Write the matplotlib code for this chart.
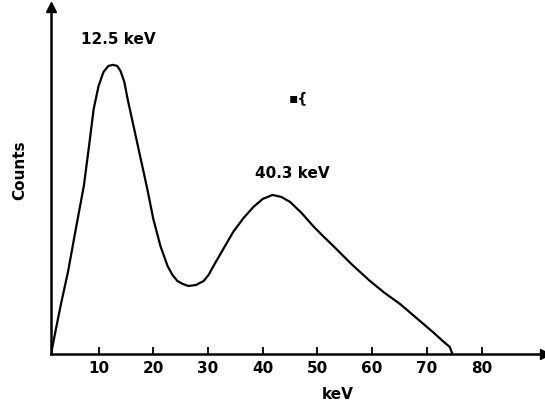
import matplotlib.pyplot as plt

# energy spectrum (keV, arbitrary counts)
energy = [1.3, 2.2, 3.2, 4.4, 5.8, 7.3, 8.3, 9.1, 10.0, 10.9, 11.8, 12.6, 13.4, 14.0,
          14.7, 15.3, 16.5, 17.7, 18.9, 20.0, 21.3, 22.6, 23.5, 24.4, 25.4, 26.4,
          27.8, 29.2, 30.1, 31.0, 32.8, 34.6, 36.5, 38.3, 40.0, 41.8, 43.4, 45.0,
          47.1, 49.2, 51.0, 52.9, 56.2, 59.6, 62.3, 65.1, 68.1, 71.1, 72.7, 74.2, 74.6]
counts = [0, 25, 52, 82, 124, 168, 210, 245, 268, 282, 288, 289, 288, 283,
          272, 255, 225, 195, 165, 135, 108, 88, 79, 73, 70, 68,
          69, 73, 79, 88, 105, 122, 136, 147, 155, 159, 157, 152,
          141, 128, 118, 108, 90, 73, 61, 50, 36, 22, 14, 7, 1]

xticks = [10, 20, 30, 40, 50, 60, 70, 80]
peak_labels = ["12.5 keV", "40.3 keV"]

fig = plt.figure(figsize=(5.45, 4.06), dpi=100)
ax = fig.add_axes([0.0936, 0.1256, 0.9064, 0.855])

ax.plot(energy, counts, color='black', lw=1.6, solid_joinstyle='round')

ax.set_xlim(1.3, 91.6)
ax.set_ylim(0, 347)

for side in ['top', 'right']:
    ax.spines[side].set_visible(False)
for side in ['left', 'bottom']:
    ax.spines[side].set_linewidth(1.8)

# arrow heads on the axes
ax.plot(1, 0, '>k', ms=7, transform=ax.transAxes, clip_on=False)
ax.plot(0, 1, '^k', ms=7, transform=ax.transAxes, clip_on=False)

ax.set_xticks(xticks)
ax.set_xticklabels([str(t) for t in xticks], fontsize=11, fontweight='bold')
ax.tick_params(axis='x', direction='in', length=5, width=1.3, pad=4)
ax.set_yticks([])

fig.text(338 / 545, 1 - 395 / 406, 'keV', ha='center', va='center',
         fontsize=11, fontweight='bold')
fig.text(20 / 545, 1 - 170 / 406, 'Counts', rotation=90, ha='center', va='center',
         fontsize=11, fontweight='bold')

ax.text(13.6, 315, peak_labels[0], ha='center', va='center', fontsize=11, fontweight='bold')
ax.text(45.4, 181, peak_labels[1], ha='center', va='center', fontsize=11, fontweight='bold')
ax.text(46.6, 257, '\u25aa{', ha='center', va='center', fontsize=10, fontweight='bold')

plt.savefig("out.png", dpi=100)
